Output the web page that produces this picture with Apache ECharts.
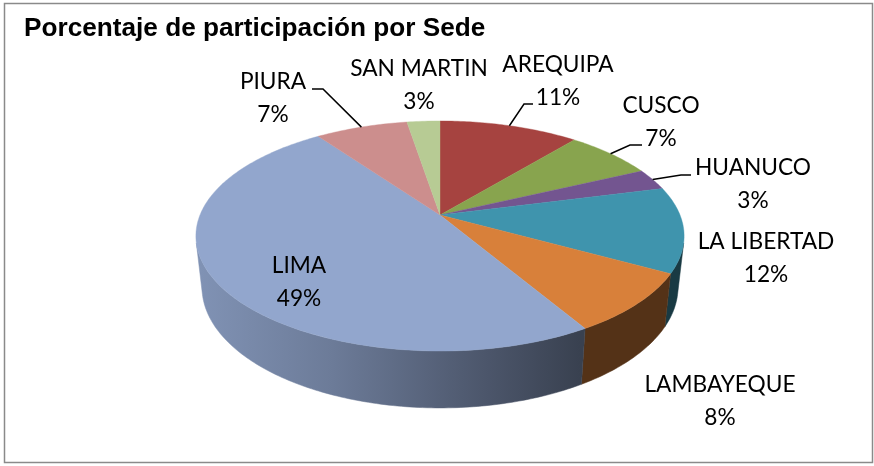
<!DOCTYPE html>
<html><head><meta charset="utf-8">
<style>html,body{margin:0;padding:0;background:#fff}#c{width:874px;height:466px}</style>
<script src="https://cdn.jsdelivr.net/npm/echarts@6/dist/echarts.min.js"></script>
</head><body><div id="c"></div>
<script>
const chartTitle = 'Porcentaje de participación por Sede';
const sedes = ['AREQUIPA','CUSCO','HUANUCO','LA LIBERTAD','LAMBAYEQUE','LIMA','PIURA','SAN MARTIN'];
const porcentajes = [11, 7, 3, 12, 8.49, 48.61, 7.3, 2.6];
const colores = ['#a64340','#88a44e','#735590','#3f94ad','#d8803a','#92a6cd','#cc8e8d','#b7cb94'];

// label layout (kept apart from the data): text centre, and optional leader elbow + end
const labelAt = [[558,81],[661,122],[753,184],[766,258],[720,401],[299,282],[273,98],[419,85]];
const leaders = [[[524,104],[533,104]],[[630,145],[642,145]],[[681,175],[691,175]],null,null,null,[[323,89],[312,89]],null];

// projection of the tilted disc; the wall is visible between the two silhouette angles
const P = {cx:440, cy:215, a:240, b:111.2, k:0.1826, sx:0.975, sy:1.05, yRef:273, yBot:326,
           wallFrom:104*Math.PI/180, wallTo:256*Math.PI/180};
const total = porcentajes.reduce((s,v)=>s+v,0);
const starts = []; porcentajes.reduce((s,v,i)=>(starts[i]=s, s+v),0);
const ang = p => p/total*2*Math.PI;
function rimTop(t){const u=Math.sin(t),v=Math.cos(t),d=1+P.k*v;return [P.cx+P.a*u/d, P.cy-P.b*v/d];}
function rimBottom(t){const p=rimTop(t);return [P.cx+P.sx*(p[0]-P.cx), P.yBot+P.sy*(p[1]-P.yRef)];}
function arc(f,a,b){const n=Math.max(2,Math.ceil((b-a)/0.015)),o=[];for(let i=0;i<=n;i++)o.push(f(a+(b-a)*i/n));return o;}
function mix(hex,f){const n=parseInt(hex.slice(1),16);return 'rgb('+[(n>>16)&255,(n>>8)&255,n&255].map(c=>Math.round(c*f)).join(',')+')';}
function wallFill(c){return {type:'linear',global:true,x:200,y:0,x2:580,y2:0,colorStops:[
  {offset:0,color:mix(c,.88)},{offset:.35,color:mix(c,.74)},{offset:.75,color:mix(c,.52)},{offset:1,color:mix(c,.39)}]};}

const rows = sedes.map((n,i)=>({name:n,value:porcentajes[i]}));
const base = {type:'custom',coordinateSystem:'none',silent:true,animation:false,data:rows};

const chart = echarts.init(document.getElementById('c'),null,{renderer:'canvas'});
chart.setOption({
  animation:false,
  backgroundColor:'#fff',
  title:{text:chartTitle,left:24,top:16,padding:0,
    textStyle:{fontFamily:'Liberation Sans',fontWeight:'bold',fontSize:26.2,color:'#000'}},
  graphic:[{type:'rect',z:-1,shape:{x:4.5,y:3.5,width:868,height:459},style:{fill:'#fff',stroke:'#8a8a8a',lineWidth:1.5}}],
  series:[
    Object.assign({},base,{z:2,renderItem(p,api){
      const i=p.dataIndex;
      const a=Math.max(ang(starts[i]),P.wallFrom),b=Math.min(ang(starts[i]+api.value(0)),P.wallTo);
      if(b<=a) return null;
      const fill=wallFill(colores[i]);
      return {type:'polygon',shape:{points:arc(rimTop,a,b).concat(arc(rimBottom,a,b).reverse())},
        style:{fill:fill,stroke:fill,lineWidth:.5}};
    }}),
    Object.assign({},base,{z:3,renderItem(p,api){
      const i=p.dataIndex,a=ang(starts[i]),b=ang(starts[i]+api.value(0));
      const pts=[[P.cx,P.cy]].concat(arc(rimTop,a,b));
      return {type:'polygon',shape:{points:pts},style:{fill:colores[i],stroke:colores[i],lineWidth:.4}};
    }}),
    Object.assign({},base,{z:4,renderItem(p,api){
      const i=p.dataIndex,v=api.value(0),kids=[];
      if(leaders[i]){
        const s=rimTop(ang(starts[i]+v/2));
        kids.push({type:'polyline',shape:{points:[s].concat(leaders[i])},style:{fill:null,stroke:'#000',lineWidth:1.5}});
      }
      kids.push({type:'text',style:{text:sedes[i]+'\n'+Math.round(v)+'%',x:labelAt[i][0],y:labelAt[i][1],
        align:'center',verticalAlign:'middle',lineHeight:33,fontFamily:'Lato',fontSize:22.7,fill:'#000'}});
      return {type:'group',children:kids};
    }})
  ]
});
</script></body></html>
